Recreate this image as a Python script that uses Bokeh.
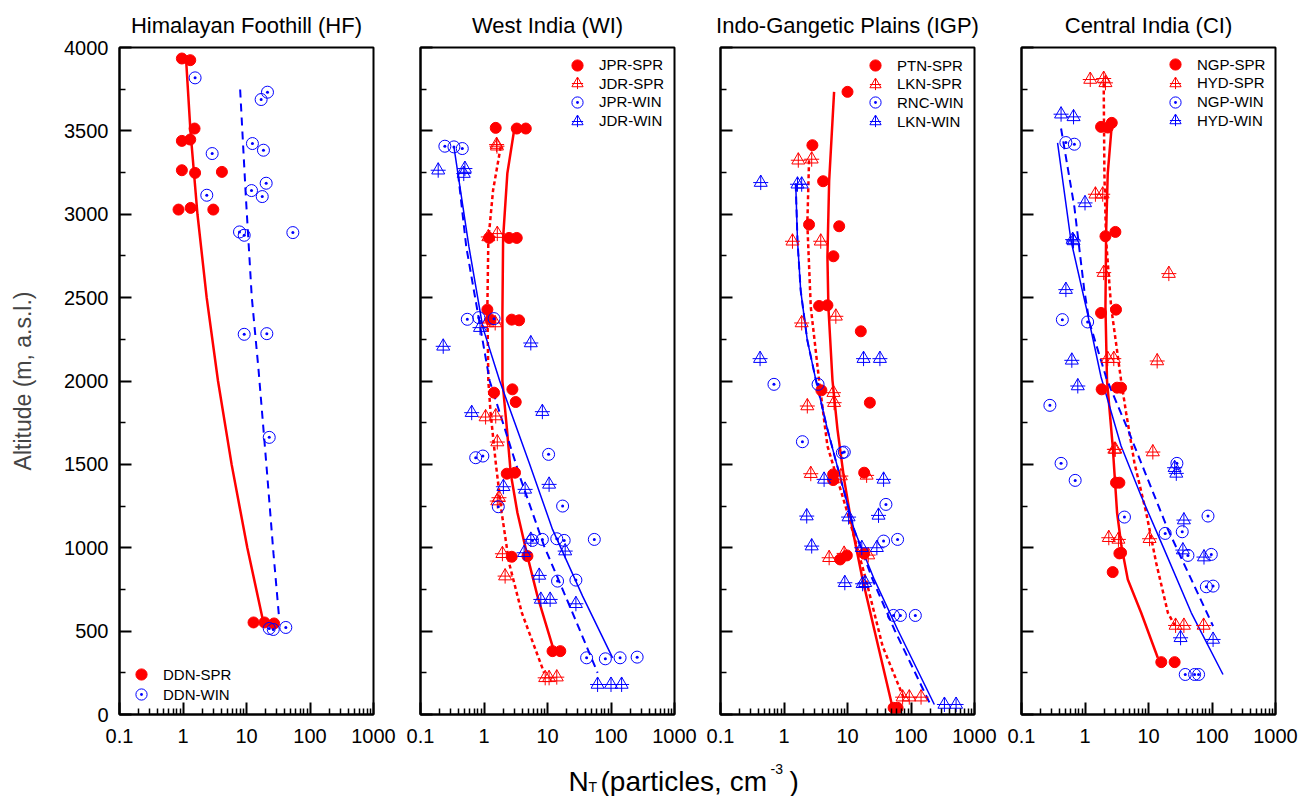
import numpy as np
from bokeh.plotting import figure
from bokeh.models import Range1d, FixedTicker, Legend, LegendItem, Label
from bokeh.layouts import row, column
from bokeh.embed import file_html
from bokeh.resources import INLINE

FONT = "Liberation Sans"
RED = "#FF0000"
BLUE = "#0000FF"

# ---------------- data (N_T in cm^-3, altitude in m a.s.l.) ----------------
# Himalayan Foothill
ddn_spr_n = [0.96, 1.30, 1.52, 0.96, 1.30, 0.96, 1.55, 4.1, 0.85, 1.32, 3.0, 12.9, 19.2, 27.2]
ddn_spr_z = [3934, 3924, 3514, 3440, 3448, 3264, 3248, 3254, 3028, 3038, 3028, 552, 552, 546]
ddn_win_n = [1.55, 21.4, 17.0, 12.4, 18.5, 2.88, 20.4, 12.0, 17.7, 2.37, 7.76, 9.2, 53.7, 9.2, 20.9, 22.8, 22.8, 26.4, 41.6]
ddn_win_z = [3818, 3732, 3688, 3424, 3384, 3364, 3186, 3142, 3106, 3114, 2894, 2874, 2890, 2280, 2284, 1662, 516, 510, 522]
ddn_spr_fit_n = [1.12, 1.31, 1.69, 2.36, 3.56, 5.83, 10.3, 17.9]
ddn_spr_fit_z = [3924, 3500, 3000, 2500, 2000, 1500, 1000, 576]
ddn_win_fit_n = [7.94, 9.77, 12.1, 15.5, 20.9, 26.6, 32.7]
ddn_win_fit_z = [3748, 3104, 2504, 2064, 1466, 966, 576]

# West India
jpr_spr_n = [1.53, 3.28, 4.55, 1.2, 2.48, 3.28, 1.13, 1.27, 2.73, 3.57, 1.44, 2.8, 3.16, 2.28, 3.08, 2.73, 4.83, 12.0, 15.9]
jpr_spr_z = [3518, 3514, 3514, 2858, 2858, 2858, 2428, 2368, 2368, 2364, 1930, 1950, 1874, 1444, 1450, 946, 950, 380, 380]
jdr_spr_n = [1.58, 1.6, 1.17, 1.62, 1.13, 1.5, 1.06, 1.53, 1.62, 1.72, 1.62, 1.95, 2.15, 9.2, 10.6, 14.0]
jdr_spr_z = [3418, 3408, 2864, 2884, 2348, 2348, 1784, 1790, 1634, 1300, 1280, 964, 830, 220, 220, 224]
jpr_win_n = [0.242, 0.336, 0.455, 0.546, 0.83, 1.44, 0.74, 0.96, 10.4, 1.68, 17.3, 5.8, 8.3, 14.0, 18.3, 54.6, 14.4, 28, 41.3, 81.5, 139, 258]
jpr_win_z = [3408, 3404, 3394, 2370, 2380, 2374, 1540, 1550, 1560, 1246, 1250, 1044, 1050, 1054, 1044, 1050, 800, 806, 340, 334, 340, 344]
jdr_win_n = [0.19, 0.5, 0.48, 0.228, 0.865, 5.46, 0.64, 8.3, 2.02, 4.44, 10.6, 5.46, 4.28, 19.0, 7.4, 7.85, 11.0, 28.0, 61.5, 100, 147]
jdr_win_z = [3264, 3274, 3244, 2208, 2320, 2228, 1810, 1816, 1366, 1350, 1380, 1050, 970, 980, 834, 690, 690, 664, 180, 180, 180]
jpr_spr_fit_n = [2.98, 2.33, 2.0, 1.95, 1.95, 2.3, 2.64, 3.36, 4.83, 6.95, 12.0]
jpr_spr_fit_z = [3504, 3244, 2858, 2400, 2000, 1710, 1444, 1210, 950, 710, 410]
jdr_spr_fit_n = [1.83, 1.39, 1.17, 1.13, 1.17, 1.27, 1.53, 1.9, 2.48, 3.94, 8.85]
jdr_spr_fit_z = [3404, 3144, 2844, 2444, 2000, 1810, 1510, 1210, 910, 610, 250]
jpr_win_fit_n = [0.336, 0.58, 0.96, 1.77, 5.14, 12.0, 35.7, 106]
jpr_win_fit_z = [3404, 2804, 2320, 2000, 1510, 1110, 710, 340]
jdr_win_fit_n = [0.39, 0.526, 1.23, 3.8, 8.85, 24.8, 61.5]
jdr_win_fit_z = [3244, 2804, 2000, 1410, 1010, 610, 250]

# Indo-Gangetic Plains
ptn_spr_n = [10, 2.8, 4.13, 2.48, 7.4, 6.0, 3.57, 4.83, 16.2, 3.88, 22.5, 5.94, 5.94, 18.3, 7.66, 9.76, 18.3, 53.2, 61.5]
ptn_spr_z = [3734, 3414, 3198, 2938, 2928, 2748, 2450, 2454, 2298, 1944, 1870, 1440, 1406, 1450, 930, 954, 966, 40, 40]
lkn_spr_n = [1.68, 2.73, 1.36, 3.79, 1.9, 6.55, 6.0, 6.15, 2.33, 2.64, 7.85, 20, 5.14, 8.85, 21.2, 73.8, 94, 144]
lkn_spr_z = [3324, 3330, 2838, 2838, 2348, 2388, 1930, 1870, 1850, 1444, 1430, 1434, 940, 966, 956, 104, 104, 104]
rnc_win_n = [0.695, 3.44, 1.95, 8.3, 8.9, 40.3, 37, 61.5, 53, 68, 117]
rnc_win_z = [1980, 1980, 1636, 1570, 1574, 1260, 1040, 1050, 594, 594, 594]
lkn_win_n = [0.43, 1.63, 1.9, 0.42, 17.9, 32.4, 4.28, 37, 2.28, 10.4, 30.8, 2.73, 16.8, 29, 9.07, 17.3, 19, 336, 513]
lkn_win_z = [3190, 3180, 3180, 2134, 2134, 2134, 1410, 1410, 1190, 1184, 1194, 1010, 1000, 1000, 790, 784, 790, 60, 60]
ptn_spr_fit_n = [6.15, 5.14, 4.83, 5.0, 5.8, 6.95, 8.85, 12.0, 17.3, 26.4, 51.4]
ptn_spr_fit_z = [3734, 3198, 2744, 2444, 2004, 1710, 1410, 1110, 810, 510, 40]
lkn_spr_fit_n = [2.48, 2.33, 2.64, 3.57, 4.83, 10.0, 19.5, 35.7, 78.5]
lkn_spr_fit_z = [3324, 2944, 2444, 2004, 1610, 1210, 810, 410, 90]
rnc_win_fit_n = [1.53, 1.63, 1.83, 2.33, 3.16, 4.83, 7.85, 12.7, 26.4, 61.5, 233]
rnc_win_fit_z = [3184, 2844, 2544, 2244, 2010, 1710, 1410, 1110, 810, 510, 60]
lkn_win_fit_n = [1.53, 1.63, 1.83, 2.33, 3.16, 4.83, 7.85, 12.7, 24.8, 54.6, 202]
lkn_win_fit_z = [3184, 2844, 2544, 2244, 2010, 1710, 1410, 1110, 810, 510, 60]

# Central India
ngp_spr_n = [1.79, 2.28, 2.64, 2.1, 3.01, 1.79, 3.08, 1.83, 3.2, 3.7, 3.08, 3.48, 3.48, 3.7, 2.73, 15.9, 25.8]
ngp_spr_z = [3524, 3520, 3548, 2868, 2894, 2408, 2428, 1950, 1960, 1960, 1390, 1390, 966, 970, 854, 314, 314]
hyd_spr_n = [1.21, 1.97, 2.1, 1.46, 1.9, 1.97, 20.9, 2.28, 2.84, 13.7, 2.9, 3.0, 11.7, 2.37, 3.36, 10.4, 26.7, 36.1, 73.8]
hyd_spr_z = [3808, 3814, 3788, 3120, 3120, 2650, 2644, 2134, 2134, 2120, 1590, 1590, 1574, 1060, 1050, 1054, 534, 534, 534]
ngp_win_n = [0.5, 0.68, 0.44, 1.1, 0.28, 0.42, 0.70, 4.18, 18.3, 34.0, 86.5, 28, 41.8, 97.5, 81.5, 104, 37.9, 53.2, 61.5]
ngp_win_z = [3430, 3420, 2368, 2354, 1854, 1506, 1404, 1184, 1086, 1096, 1190, 1506, 954, 960, 766, 770, 240, 240, 240]
hyd_win_n = [0.42, 0.66, 1.0, 0.64, 0.66, 0.5, 0.62, 0.77, 25.8, 27.4, 36.1, 34.8, 74.8, 32, 104]
hyd_win_z = [3600, 3584, 3068, 2848, 2840, 2548, 2124, 1970, 1480, 1446, 1166, 986, 944, 460, 450]
ngp_spr_fit_n = [2.64, 2.28, 2.15, 2.1, 2.22, 2.73, 3.2, 3.75, 4.72, 7.66, 14.0]
ngp_spr_fit_z = [3534, 3244, 2884, 2444, 2004, 1610, 1210, 1010, 810, 610, 340]
hyd_spr_fit_n = [1.97, 2.02, 2.15, 2.58, 3.7, 4.44, 6.0, 9.2, 13.2, 20.2, 26.0]
hyd_spr_fit_z = [3784, 3244, 2844, 2444, 2004, 1810, 1510, 1210, 910, 610, 534]
ngp_win_fit_n = [0.37, 0.6, 1.04, 1.79, 3.7, 7.66, 16.8, 47.2, 149]
ngp_win_fit_z = [3428, 2844, 2444, 2024, 1610, 1310, 1010, 610, 240]
hyd_win_fit_n = [0.42, 0.68, 0.975, 1.17, 2.2, 4.72, 9.76, 20.2, 47.2, 104]
hyd_win_fit_z = [3514, 3044, 2544, 2354, 2010, 1710, 1410, 1110, 810, 530]

# ticks
x_major = [0.1, 1, 10, 100, 1000]
x_labels = ["0.1", "1", "10", "100", "1000"]
x_minor = [m * 10.0 ** e for e in range(-1, 3) for m in range(2, 10)]
y_major = list(range(0, 4001, 500))
y_minor = list(range(250, 4000, 500))

titles = ["Himalayan Foothill (HF)", "West India (WI)", "Indo-Gangetic Plains (IGP)", "Central India (CI)"]

FRAME_W, FRAME_H = 254, 667


def make_panel(title, left, right, first):
    p = figure(x_axis_type="log", x_range=Range1d(0.1, 1000), y_range=Range1d(0, 4000),
               frame_width=FRAME_W, frame_height=FRAME_H,
               min_border_left=left, min_border_right=right,
               min_border_top=47, min_border_bottom=42,
               output_backend="svg", toolbar_location=None, title=title)
    p.title.text_font = FONT
    p.title.text_font_size = "22px"
    p.title.text_font_style = "normal"
    p.title.align = "center"
    p.title.text_color = "black"
    p.title.standoff = 20
    p.grid.visible = False
    p.outline_line_color = "black"
    p.outline_line_width = 2
    p.outline_line_alpha = 1.0
    for ax in (p.xaxis[0], p.yaxis[0]):
        ax.axis_line_width = 2
        ax.major_tick_in = 12
        ax.major_tick_out = 0
        ax.minor_tick_in = 6
        ax.minor_tick_out = 0
        ax.major_tick_line_width = 2
        ax.minor_tick_line_width = 1.5
        ax.major_label_text_font = FONT
        ax.major_label_text_font_size = "20px"
        ax.major_label_text_color = "black"
    xa = p.xaxis[0]
    xa.ticker = FixedTicker(ticks=x_major, minor_ticks=x_minor)
    xa.major_label_overrides = {v: s for v, s in zip(x_major, x_labels)}
    xa.major_label_standoff = 14
    ya = p.yaxis[0]
    ya.ticker = FixedTicker(ticks=y_major, minor_ticks=y_minor)
    if first:
        ya.major_label_standoff = 11
        ya.axis_label = "Altitude (m, a.s.l.)"
        ya.axis_label_text_font = FONT
        ya.axis_label_text_font_size = "23px"
        ya.axis_label_text_font_style = "normal"
        ya.axis_label_standoff = 25
    else:
        # ticks only, no tick labels on the inner panels
        ya.major_label_overrides = {v: "" for v in y_major}
        ya.major_label_text_color = None
        ya.major_label_standoff = 0
    return p


def add_series(p, kind, color, xs, ys):
    rs = []
    if kind == "filled":
        rs.append(p.scatter(xs, ys, marker="circle", size=11, fill_color=color, line_color=color))
    elif kind == "open":
        rs.append(p.scatter(xs, ys, marker="circle_dot", size=12, fill_alpha=0, line_color=color, line_width=1))
    else:
        rs.append(p.scatter(xs, ys, marker="triangle", size=13, fill_alpha=0, line_color=color, line_width=1))
        rs.append(p.scatter(xs, ys, marker="cross", size=15, line_color=color, line_width=1))
    return rs


def add_fit(p, xs, ys, color, width, dash):
    p.line(xs, ys, line_color=color, line_width=width, line_dash=dash)


def add_legend(p, items, left, first_center_from_top, step):
    # one single-row legend per entry so that the symbols stay large and rows stay tight
    for i, (lab, rs) in enumerate(items):
        center = first_center_from_top + i * step
        bottom = FRAME_H - center - 14
        leg = Legend(items=[LegendItem(label=lab, renderers=rs)],
                     location=(left, bottom), margin=0, padding=0,
                     label_text_font=FONT, label_text_font_size="15px", label_text_color="black",
                     glyph_width=28, glyph_height=28, label_height=28, label_standoff=8, spacing=0,
                     background_fill_alpha=0, border_line_alpha=0)
        p.add_layout(leg)


# Panel 1
p1 = make_panel(titles[0], 119, 24, True)
add_fit(p1, ddn_spr_fit_n, ddn_spr_fit_z, RED, 2.5, "solid")
add_fit(p1, ddn_win_fit_n, ddn_win_fit_z, BLUE, 2, "8 6")
r1 = add_series(p1, "filled", RED, ddn_spr_n, ddn_spr_z)
r2 = add_series(p1, "open", BLUE, ddn_win_n, ddn_win_z)
add_legend(p1, [("DDN-SPR", r1), ("DDN-WIN", r2)], 8, FRAME_H - 40, 20)

# Panel 2
p2 = make_panel(titles[1], 23, 24, False)
add_fit(p2, jpr_spr_fit_n, jpr_spr_fit_z, RED, 2.5, "solid")
add_fit(p2, jdr_spr_fit_n, jdr_spr_fit_z, RED, 2.5, "4 3")
add_fit(p2, jpr_win_fit_n, jpr_win_fit_z, BLUE, 1.5, "solid")
add_fit(p2, jdr_win_fit_n, jdr_win_fit_z, BLUE, 2, "8 5")
a = add_series(p2, "filled", RED, jpr_spr_n, jpr_spr_z)
b = add_series(p2, "tri", RED, jdr_spr_n, jdr_spr_z)
c = add_series(p2, "open", BLUE, jpr_win_n, jpr_win_z)
d = add_series(p2, "tri", BLUE, jdr_win_n, jdr_win_z)
add_legend(p2, [("JPR-SPR", a), ("JDR-SPR", b), ("JPR-WIN", c), ("JDR-WIN", d)], 143, 17.5, 18.7)

# Panel 3
p3 = make_panel(titles[2], 22, 24, False)
add_fit(p3, ptn_spr_fit_n, ptn_spr_fit_z, RED, 2.5, "solid")
add_fit(p3, lkn_spr_fit_n, lkn_spr_fit_z, RED, 2.5, "4 3")
add_fit(p3, rnc_win_fit_n, rnc_win_fit_z, BLUE, 1.5, "solid")
add_fit(p3, lkn_win_fit_n, lkn_win_fit_z, BLUE, 2, "8 5")
a = add_series(p3, "filled", RED, ptn_spr_n, ptn_spr_z)
b = add_series(p3, "tri", RED, lkn_spr_n, lkn_spr_z)
c = add_series(p3, "open", BLUE, rnc_win_n, rnc_win_z)
d = add_series(p3, "tri", BLUE, lkn_win_n, lkn_win_z)
add_legend(p3, [("PTN-SPR", a), ("LKN-SPR", b), ("RNC-WIN", c), ("LKN-WIN", d)], 141, 18, 18.7)

# Panel 4
p4 = make_panel(titles[3], 23, 24, False)
add_fit(p4, ngp_spr_fit_n, ngp_spr_fit_z, RED, 2.5, "solid")
add_fit(p4, hyd_spr_fit_n, hyd_spr_fit_z, RED, 2.5, "4 3")
add_fit(p4, ngp_win_fit_n, ngp_win_fit_z, BLUE, 1.5, "solid")
add_fit(p4, hyd_win_fit_n, hyd_win_fit_z, BLUE, 2, "8 5")
a = add_series(p4, "filled", RED, ngp_spr_n, ngp_spr_z)
b = add_series(p4, "tri", RED, hyd_spr_n, hyd_spr_z)
c = add_series(p4, "open", BLUE, ngp_win_n, ngp_win_z)
d = add_series(p4, "tri", BLUE, hyd_win_n, hyd_win_z)
add_legend(p4, [("NGP-SPR", a), ("HYD-SPR", b), ("NGP-WIN", c), ("HYD-WIN", d)], 140, 17.3, 18.6)

# shared x-axis title (N_T with subscript / superscript), in its own strip
LW, LH = 1299, 40
lab = figure(width=LW, height=LH, x_range=Range1d(0, LW), y_range=Range1d(0, LH),
             x_axis_type=None, y_axis_type=None, min_border=0,
             output_backend="svg", toolbar_location=None)
lab.outline_line_color = None
lab.grid.visible = False
parts = [("N", 568, 15, "28px"), ("T", 588, 10, "14px"), ("(particles, cm", 600, 15, "28px"),
         ("-3", 770, 28, "14px"), (")", 789, 15, "28px")]
for txt, xx, yy, fs in parts:
    lab.add_layout(Label(x=xx, y=yy, text=txt, text_font=FONT, text_font_size=fs,
                         text_color="black", text_baseline="alphabetic", text_align="left"))

layout = column(row(p1, p2, p3, p4, spacing=0), lab, spacing=0)
open("out.html", "w").write(file_html(layout, INLINE))
